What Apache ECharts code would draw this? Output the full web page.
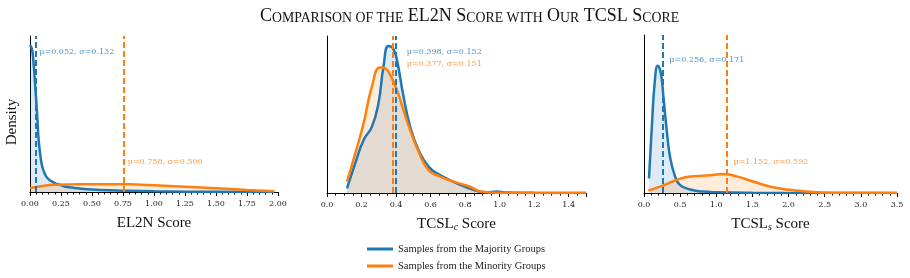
<!DOCTYPE html>
<html>
<head>
<meta charset="utf-8">
<script src="https://cdn.jsdelivr.net/npm/echarts@6/dist/echarts.min.js"></script>
<style>
  html, body { margin: 0; padding: 0; background: #fff; }
  #chart { width: 910px; height: 278px; }
</style>
</head>
<body>
<div id="chart"></div>
<script>
var colorMaj = '#1f77b4';
var colorMin = '#ff7f0e';
var nameMaj = 'Samples from the Majority Groups';
var nameMin = 'Samples from the Minority Groups';

// EL2N (density curves)
var el2nMajX = [0, 0.01, 0.02, 0.03, 0.04, 0.05, 0.06, 0.07, 0.08, 0.09, 0.10, 0.12, 0.14, 0.17, 0.2, 0.25, 0.3, 0.4, 0.5, 0.7, 1.0, 1.5, 1.97];
var el2nMajY = [6.6, 6.5, 6.28, 5.7, 4.93, 4.13, 3.23, 2.33, 1.79, 1.39, 1.12, 0.81, 0.63, 0.49, 0.40, 0.31, 0.22, 0.16, 0.11, 0.07, 0.03, 0.01, 0.0];
var el2nMinX = [0, 0.1, 0.2, 0.4, 0.6, 0.8, 0.9, 1.0, 1.25, 1.5, 1.75, 1.97];
var el2nMinY = [0.18, 0.27, 0.32, 0.345, 0.345, 0.345, 0.33, 0.305, 0.24, 0.17, 0.094, 0.03];

// TCSL_c
var tcslcMajX = [0.116, 0.164, 0.212, 0.26, 0.298, 0.327, 0.356, 0.382, 0.405, 0.443, 0.482, 0.53, 0.588, 0.655, 0.752, 0.848, 0.925, 0.983, 1.04, 1.2, 1.5];
var tcslcMajY = [0.15, 0.95, 1.69, 2.11, 2.86, 4.02, 4.68, 4.61, 4.24, 3.07, 2.11, 1.37, 0.84, 0.57, 0.31, 0.10, 0.02, 0.05, 0.015, 0.005, 0.0];
var tcslcMinX = [0.116, 0.164, 0.212, 0.26, 0.308, 0.337, 0.366, 0.405, 0.443, 0.482, 0.53, 0.588, 0.655, 0.752, 0.829, 0.895, 1.0, 1.2, 1.5];
var tcslcMinY = [0.36, 1.26, 2.22, 3.39, 4.0, 3.97, 3.76, 3.28, 2.64, 2.0, 1.32, 0.73, 0.52, 0.33, 0.2, 0.04, 0.01, 0.003, 0.0];

// TCSL_s
var tcslsMajX = [0.069, 0.106, 0.152, 0.19, 0.231, 0.268, 0.314, 0.36, 0.43, 0.5, 0.64, 0.82, 1.0, 1.5, 2.0, 3.5];
var tcslsMajY = [0.37, 1.6, 2.88, 3.22, 3.05, 2.45, 1.6, 0.92, 0.42, 0.2, 0.09, 0.035, 0.02, 0.005, 0.0, 0.0];
var tcslsMinX = [0.06, 0.22, 0.45, 0.64, 0.87, 1.1, 1.28, 1.51, 1.75, 2.02, 2.39, 2.77, 3.5];
var tcslsMinY = [0.06, 0.16, 0.33, 0.42, 0.44, 0.48, 0.42, 0.29, 0.16, 0.08, 0.02, 0.005, 0.0];

var majX = [el2nMajX, tcslcMajX, tcslsMajX];
var majY = [el2nMajY, tcslcMajY, tcslsMajY];
var minX = [el2nMinX, tcslcMinX, tcslsMinX];
var minY = [el2nMinY, tcslcMinY, tcslsMinY];

var meanMaj = [0.052, 0.398, 0.256];
var stdMaj = [0.132, 0.152, 0.171];
var meanMin = [0.758, 0.377, 1.152];
var stdMin = [0.500, 0.151, 0.592];

// where the mu/sigma notes sit (data coords of their left edge)
var noteMaj = [[0.075, 6.28], [0.462, 4.5], [0.35, 3.38]];
var noteMin = [[0.788, 1.35], [0.462, 4.1], [1.237, 0.78]];

var xMax = [2, 1.5, 3.5];
var xStep = [0.25, 0.2, 0.5];
var xMinor = [5, 4, 5];
var xDigits = [2, 1, 1];
var yMax = [7, 5, 4];

var grids = [
  { left: 30, top: 36, width: 248, height: 156 },
  { left: 327, top: 36, width: 259, height: 157 },
  { left: 644, top: 35, width: 253, height: 158 }
];

var serif = 'Liberation Serif';
var smallSerif = 'DejaVu Serif';

function pairs(xs, ys) {
  return xs.map(function (x, i) { return [x, ys[i]]; });
}

var xAxes = [], yAxes = [], series = [];
var axisNames = [
  'EL2N Score',
  '{n|TCSL}{i|c}{n| Score}',
  '{n|TCSL}{i|s}{n| Score}'
];

for (var p = 0; p < 3; p++) {
  (function (p) {
    xAxes.push({
      type: 'value', gridIndex: p, min: 0, max: xMax[p], interval: xStep[p],
      name: axisNames[p], nameLocation: 'middle', nameGap: 24,
      nameTextStyle: {
        fontFamily: serif, fontSize: 15, color: '#111',
        rich: {
          n: { fontFamily: serif, fontSize: 15, color: '#111' },
          i: { fontFamily: serif, fontSize: 10, fontStyle: 'italic', color: '#111', verticalAlign: 'bottom', lineHeight: 8 }
        }
      },
      axisLine: { show: true, onZero: false, lineStyle: { color: '#000', width: 1 } },
      axisTick: { show: true, length: 4, lineStyle: { color: '#000' } },
      minorTick: { show: true, splitNumber: xMinor[p], length: 2.5, lineStyle: { color: '#000' } },
      splitLine: { show: false },
      axisLabel: {
        fontFamily: smallSerif, fontSize: 8, color: '#222', margin: 8,
        formatter: function (v) {
          var k = v / xStep[p];
          if (Math.abs(k - Math.round(k)) > 1e-6) return '';
          return v.toFixed(xDigits[p]);
        }
      }
    });
    yAxes.push({
      type: 'value', gridIndex: p, min: 0, max: yMax[p],
      name: p === 0 ? 'Density' : '', nameLocation: 'middle', nameGap: 10,
      nameTextStyle: { fontFamily: serif, fontSize: 15, color: '#111', padding: [0, 16, 0, 0] },
      axisLine: { show: true, lineStyle: { color: '#000', width: 1 } },
      axisTick: { show: false }, axisLabel: { show: false }, splitLine: { show: false }
    });

    function curve(name, color, xs, ys, mean) {
      return {
        name: name, type: 'line', xAxisIndex: p, yAxisIndex: p,
        data: pairs(xs, ys), smooth: 0.5,
        showSymbol: false, symbol: 'none', clip: true,
        lineStyle: { color: color, width: 2.5 },
        itemStyle: { color: color },
        areaStyle: { color: color, opacity: 0.15 },
        markLine: {
          silent: true, symbol: 'none', label: { show: false },
          lineStyle: { color: color, width: 2, type: [6, 3] },
          data: [{ xAxis: mean }]
        }
      };
    }
    series.push(curve(nameMaj, colorMaj, majX[p], majY[p], meanMaj[p]));
    series.push(curve(nameMin, colorMin, minX[p], minY[p], meanMin[p]));

    function note(pos, color, mean, std) {
      return {
        type: 'scatter', xAxisIndex: p, yAxisIndex: p, symbolSize: 0, silent: true,
        data: [pos], z: 6,
        label: {
          show: true, position: 'right', distance: 0,
          fontFamily: smallSerif, fontSize: 8, color: color,
          formatter: 'μ=' + mean.toFixed(3) + ', σ=' + std.toFixed(3)
        }
      };
    }
    series.push(note(noteMaj[p], colorMaj, meanMaj[p], stdMaj[p]));
    series.push(note(noteMin[p], colorMin, meanMin[p], stdMin[p]));
  })(p);
}

var chart = echarts.init(document.getElementById('chart'), null, { renderer: 'canvas' });

chart.setOption({
  animation: false,
  backgroundColor: '#fff',
  title: {
    left: 255, top: 2,
    text: '{b|C}{s|OMPARISON OF THE} {b|EL2N S}{s|CORE WITH} {b|O}{s|UR} {b|TCSL S}{s|CORE}',
    textStyle: {
      fontWeight: 'normal', fontFamily: serif, fontSize: 18,
      rich: {
        b: { fontFamily: serif, fontSize: 18, fontWeight: 'normal', color: '#111', verticalAlign: 'bottom', lineHeight: 18.5 },
        s: { fontFamily: serif, fontSize: 13.8, fontWeight: 'normal', color: '#111', verticalAlign: 'bottom', lineHeight: 15.8 }
      }
    }
  },
  legend: {
    orient: 'vertical', left: 367, top: 243, padding: 0,
    data: [nameMaj, nameMin],
    icon: 'rect', itemWidth: 26, itemHeight: 3, itemGap: 5,
    textStyle: { fontFamily: serif, fontSize: 10.5, color: '#222', lineHeight: 12 }
  },
  grid: grids,
  xAxis: xAxes,
  yAxis: yAxes,
  series: series
});
</script>
</body>
</html>
